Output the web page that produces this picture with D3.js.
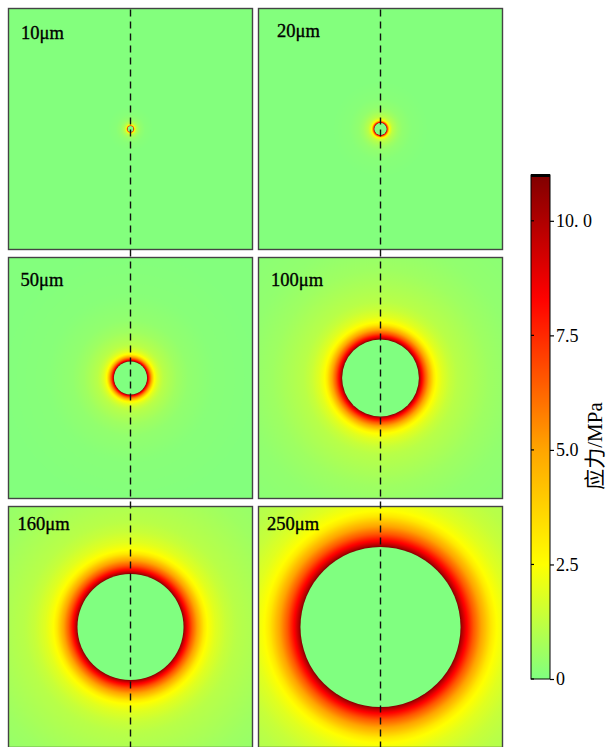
<!DOCTYPE html>
<html><head><meta charset="utf-8">
<script src="https://cdn.jsdelivr.net/npm/d3@7"></script>
<style>html,body{margin:0;padding:0;background:#fff;overflow:hidden}</style>
</head><body><svg id="c" width="606" height="747"></svg>
<script>
// ---- data ----
const panelLabels = ["10μm", "20μm", "50μm", "100μm", "160μm", "250μm"];
const holeRadius = [9, 19, 51, 118, 163, 246];           // μm, panel spans -375..375 μm
const profileRatio  = [1.00, 1.02, 1.07, 1.16, 1.26, 1.38, 1.45, 1.6, 1.8, 2.0, 2.3, 2.8, 3.5, 5, 8];
const profileStress = [11, 10, 8.5, 6.6, 5.0, 3.2, 2.5, 1.9, 1.4, 1.1, 0.9, 0.6, 0.35, 0.15, 0.05];
const colorStops  = [0, 1.25, 2.5, 5.0, 7.5, 8.3, 11];
const colorValues = ["#80ff80", "#c0ff40", "#ffff00", "#ffa500", "#ff2800", "#ff0000", "#800000"];
const tickValues = [0, 2.5, 5.0, 7.5, 10.0];
const tickLabels = ["0", "2.5", "5.0", "7.5", "10. 0"];
const cbarTitle = "应力/MPa";
const stressDomain = [0, 11];
const spanDomain = [-375, 375];

// ---- layout ----
const colX = [8.5, 258.5], rowY = [8.5, 257.5, 506.5];
const PW = 244, PH = 241;
const labelOffset = [[12.5, 30], [18.5, 28], [12, 28], [12.5, 28], [9, 23], [8.5, 23]];
const serif = "'Liberation Serif','Times New Roman',serif";

const svg = d3.select("#c");
const defs = svg.append("defs");
const color = d3.scaleLinear().domain(colorStops).range(colorValues).interpolate(d3.interpolateRgb).clamp(true);
const stressOf = d3.scaleLinear().domain(profileRatio).range(profileStress).clamp(true);

panelLabels.forEach((lab, i) => {
  const col = i % 2, row = Math.floor(i / 2);
  const x0 = colX[col], y0 = rowY[row];
  const xs = d3.scaleLinear().domain(spanDomain).range([x0, x0 + PW]);
  const k = PW / (spanDomain[1] - spanDomain[0]);
  const cx = xs(0), cy = y0 + PH / 2;
  const aPx = holeRadius[i] * k;
  const Rmax = Math.max(10 * aPx, 200);
  const g = defs.append("radialGradient").attr("id", "g" + i)
    .attr("gradientUnits", "userSpaceOnUse")
    .attr("cx", cx).attr("cy", cy).attr("r", Rmax).attr("fx", cx).attr("fy", cy);
  const N = 400, maxRatio = Rmax / aPx;
  const ratioScale = d3.scaleLinear().domain([0, N]).range([0, Math.log(maxRatio)]);
  for (let j = 0; j <= N; j++) {
    const ratio = Math.exp(ratioScale(j));
    g.append("stop").attr("offset", Math.min(1, ratio * aPx / Rmax))
      .attr("stop-color", color(stressOf(ratio)));
  }
  defs.append("clipPath").attr("id", "cp" + i).append("rect")
    .attr("x", x0).attr("y", y0).attr("width", PW).attr("height", PH);
  const pg = svg.append("g").attr("clip-path", `url(#cp${i})`);
  pg.append("rect").attr("x", x0).attr("y", y0).attr("width", PW).attr("height", PH)
    .attr("fill", `url(#g${i})`);
  pg.append("circle").attr("cx", cx).attr("cy", cy).attr("r", aPx).attr("fill", color(0));
  svg.append("rect").attr("x", x0).attr("y", y0).attr("width", PW).attr("height", PH)
    .attr("fill", "none").attr("stroke", "#444").attr("stroke-width", 1.4);
  svg.append("text").attr("x", x0 + labelOffset[i][0]).attr("y", y0 + labelOffset[i][1])
    .attr("font-family", serif).attr("font-size", 18.5)
    .attr("fill", "#000").attr("stroke", "#000").attr("stroke-width", 0.35).text(lab);
});

// dashed center lines
colX.forEach(x0 => {
  const xs = d3.scaleLinear().domain(spanDomain).range([x0, x0 + PW]);
  svg.append("line").attr("x1", xs(0)).attr("x2", xs(0))
    .attr("y1", rowY[0] + 1).attr("y2", 747)
    .attr("stroke", "#111").attr("stroke-width", 1.4).attr("stroke-dasharray", "7,5");
});

// ---- colorbar ----
const cbX = 531, cbW = 19;
const cy = d3.scaleLinear().domain(stressDomain).range([679, 175]);
const lgrad = defs.append("linearGradient").attr("id", "cb")
  .attr("x1", 0).attr("y1", 1).attr("x2", 0).attr("y2", 0);
d3.range(0, 11.001, 0.25).forEach(v => {
  lgrad.append("stop").attr("offset", v / stressDomain[1]).attr("stop-color", color(v));
});
svg.append("rect").attr("x", cbX).attr("y", cy(11)).attr("width", cbW).attr("height", cy(0) - cy(11))
  .attr("fill", "url(#cb)").attr("stroke", "#000").attr("stroke-width", 1);
svg.append("line").attr("x1", cbX).attr("x2", cbX + cbW).attr("y1", cy(11) + 0.5).attr("y2", cy(11) + 0.5)
  .attr("stroke", "#000").attr("stroke-width", 3);
const ax = svg.append("g").attr("transform", `translate(${cbX + cbW},0)`)
  .call(d3.axisRight(cy).tickValues(tickValues).tickFormat((d, i) => tickLabels[i])
    .tickSize(4).tickSizeOuter(0).tickPadding(2));
ax.select(".domain").remove();
ax.selectAll("line").attr("stroke", "#000").attr("stroke-width", 1.2);
ax.selectAll("text").attr("font-family", serif).attr("font-size", 18).attr("fill", "#000");
svg.selectAll(".innertick").data(tickValues).enter().append("line")
  .attr("x1", cbX).attr("x2", cbX + 3).attr("y1", d => cy(d)).attr("y2", d => cy(d))
  .attr("stroke", "#000").attr("stroke-width", 1.2);
svg.append("text").attr("transform", "translate(595,446) rotate(-90)")
  .attr("text-anchor", "middle").attr("dominant-baseline", "central")
  .attr("font-family", "'Liberation Serif','Noto Sans CJK SC',serif").attr("font-size", 21)
  .attr("fill", "#000").text(cbarTitle);
</script></body></html>
